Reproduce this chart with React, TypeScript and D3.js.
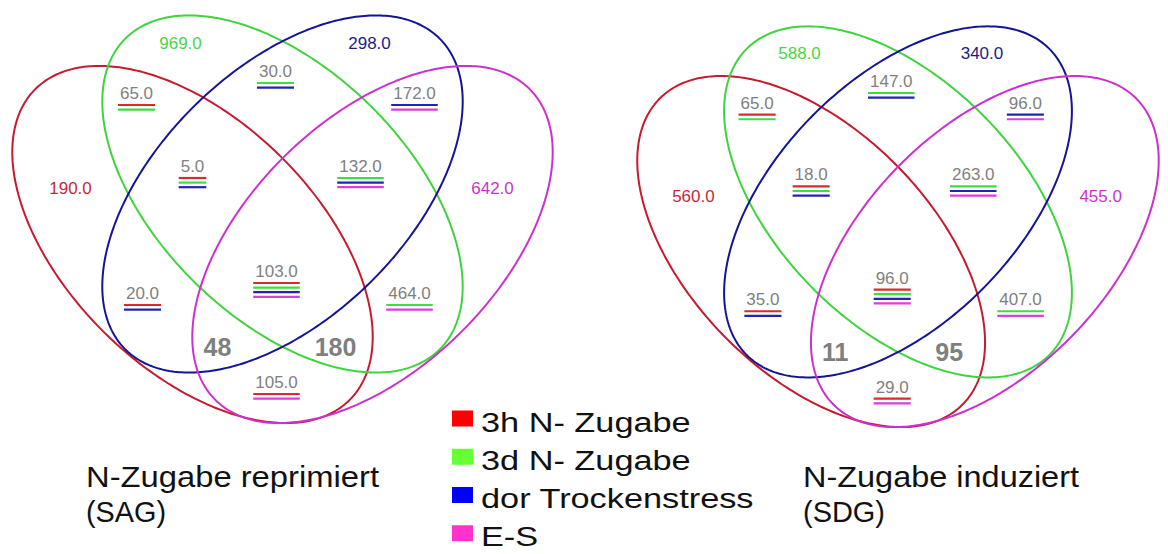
import React from 'react';
import * as d3 from 'd3';

// ---------- data ----------
const setNames = ['3h N- Zugabe', '3d N- Zugabe', 'dor Trockenstress', 'E-S'];
const regionKeys = ['A', 'B', 'C', 'D', 'AB', 'BC', 'CD', 'ABC', 'BCD', 'AC', 'BD', 'ABCD', 'ACD', 'ABD', 'AD'];
const sagValues = [190, 969, 298, 642, 65, 30, 172, 5, 132, 20, 464, 103, 48, 180, 105];
const sdgValues = [560, 588, 340, 455, 65, 147, 96, 18, 263, 35, 407, 96, 11, 95, 29];
const panelTitles = ['N-Zugabe reprimiert', 'N-Zugabe induziert'];
const panelSubtitles = ['(SAG)', '(SDG)'];

// ---------- layout / style ----------
const SET_KEYS = ['A', 'B', 'C', 'D'];
const ELLIPSES = [
  { cx: -90, cy: 26.5, rot: 44.5 },
  { cx: 0, cy: -24, rot: 44.5 },
  { cx: 0, cy: -24, rot: -44.5 },
  { cx: 90, cy: 26.5, rot: -44.5 },
];
const ELL_A = 221;
const ELL_B = 124.6;
const LABEL_POS: Record<string, [number, number]> = {
  A: [-212, -30], B: [-102, -175], C: [87, -175], D: [210, -30],
  AB: [-146, -125], BC: [-7, -147], CD: [132, -125],
  ABC: [-90, -52], BCD: [78, -52],
  AC: [-140, 75], BD: [127, 75],
  ABCD: [-6, 53], ACD: [-65, 129], ABD: [53, 129], AD: [-6, 164],
};
const BIG = new Set(['ACD', 'ABD']);
const PANELS = [
  { cx: 282.5, cy: 218, sx: 1, sy: 1, titleX: 86 },
  { cx: 898, cy: 225.5, sx: 0.965, sy: 0.983, titleX: 803 },
];
const strokeColors = ['#c81a2e', '#3dd43d', '#14149a', '#cf2fcf'];
const setLabelColors = ['#c8283a', '#46d846', '#1c1c86', '#cc33cc'];
const underlineColors = ['#dc2a2a', '#3ede3e', '#2222b4', '#dc3ddc'];
const legendColors = ['#ff0000', '#66ff33', '#0000ff', '#ff33cc'];
const FONT = "'Liberation Sans', Arial, Helvetica, sans-serif";
const GRAY = '#7f7f7f';

const colorScale = d3.scaleOrdinal<string, string>().domain(SET_KEYS).range(strokeColors);
const labelColorScale = d3.scaleOrdinal<string, string>().domain(SET_KEYS).range(setLabelColors);
const underlineScale = d3.scaleOrdinal<string, string>().domain(SET_KEYS).range(underlineColors);
const legendScale = d3.scaleOrdinal<string, string>().domain(setNames).range(legendColors);

const fmt1 = d3.format('.1f');
const fmt0 = d3.format('d');

function textWidth(s: string, size: number) {
  let w = 0;
  for (const ch of s) w += ch === '.' ? 0.278 : 0.556;
  return w * size;
}

function Venn({ values, panel }: { values: number[]; panel: typeof PANELS[number] }) {
  const x = d3.scaleLinear().domain([-100, 100]).range([panel.cx - 100 * panel.sx, panel.cx + 100 * panel.sx]);
  const y = d3.scaleLinear().domain([-100, 100]).range([panel.cy - 100 * panel.sy, panel.cy + 100 * panel.sy]);
  const line = d3.line<[number, number]>().x((d) => x(d[0])).y((d) => y(d[1])).curve(d3.curveLinearClosed);
  const ts = d3.range(0, 360, 1);

  return (
    <g>
      {ELLIPSES.map((e, i) => {
        const th = (e.rot * Math.PI) / 180;
        const pts: [number, number][] = ts.map((deg) => {
          const t = (deg * Math.PI) / 180;
          const u = ELL_A * Math.cos(t);
          const v = ELL_B * Math.sin(t);
          return [e.cx + u * Math.cos(th) - v * Math.sin(th), e.cy + u * Math.sin(th) + v * Math.cos(th)];
        });
        return <path key={i} d={line(pts) || ''} fill="none" stroke={colorScale(SET_KEYS[i])} strokeWidth={2} />;
      })}
      {regionKeys.map((k, i) => {
        const [lx, ly] = LABEL_POS[k];
        const px = x(lx);
        const py = y(ly);
        if (k.length === 1) {
          return (
            <text key={k} x={px} y={py + 6} textAnchor="middle" fontFamily={FONT} fontSize={17}
              fill={labelColorScale(k)}>{fmt1(values[i])}</text>
          );
        }
        if (BIG.has(k)) {
          return (
            <text key={k} x={px} y={py + 9} textAnchor="middle" fontFamily={FONT} fontSize={25}
              fontWeight="bold" fill={GRAY}>{fmt0(values[i])}</text>
          );
        }
        const s = fmt1(values[i]);
        const w = textWidth(s, 17) + 4;
        const sets = k.split('');
        return (
          <g key={k}>
            <text x={px} y={py + 6} textAnchor="middle" fontFamily={FONT} fontSize={17} fill={GRAY}>{s}</text>
            {sets.map((sk, j) => (
              <line key={sk} x1={px - w / 2} x2={px + w / 2} y1={py + 12 + j * 4.6} y2={py + 12 + j * 4.6}
                stroke={underlineScale(sk)} strokeWidth={2.2} />
            ))}
          </g>
        );
      })}
    </g>
  );
}

export default function App() {
  const datasets = [sagValues, sdgValues];
  const legendY = d3.scaleBand<string>().domain(setNames).range([405, 558]).paddingInner(0);
  return (
    <div style={{ position: 'absolute', left: 0, top: 0, width: 1168, height: 554, background: '#fff' }}>
      <svg width={1168} height={554} style={{ display: 'block' }}>
        <rect width={1168} height={554} fill="#fff" />
        {PANELS.map((p, i) => (
          <g key={i}>
            <Venn values={datasets[i]} panel={p} />
            <g transform={`translate(${p.titleX},0)`}>
              <text x={0} y={486.5} fontFamily={FONT} fontSize={29} fill="#111"
                textLength={i === 0 ? 293 : 276} lengthAdjust="spacingAndGlyphs">{panelTitles[i]}</text>
              <text x={0} y={521.5} fontFamily={FONT} fontSize={29} fill="#111"
                textLength={i === 0 ? 80 : 82} lengthAdjust="spacingAndGlyphs">{panelSubtitles[i]}</text>
            </g>
          </g>
        ))}
        {setNames.map((n) => {
          const by = (legendY(n) || 0) + 26.5;
          return (
            <g key={n}>
              <rect x={452} y={by - 21} width={21} height={16} fill={legendScale(n)} />
              <g transform={`translate(481,${by}) scale(1.27,1)`}>
                <text x={0} y={0} fontFamily={FONT} fontSize={27} fill="#111">{n}</text>
              </g>
            </g>
          );
        })}
      </svg>
    </div>
  );
}
